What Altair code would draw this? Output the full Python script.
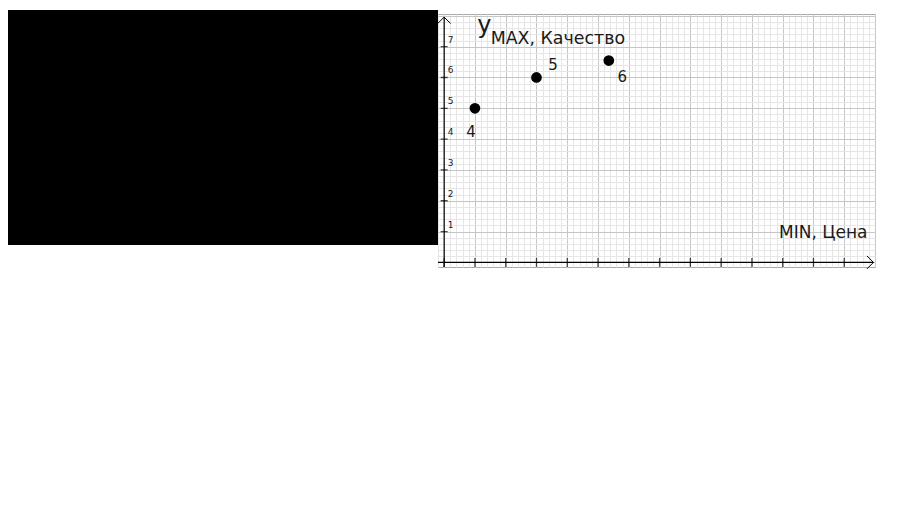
import altair as alt
import pandas as pd

# ---- data (grid units: 1 major cell = 1) ----
point_x = [1, 3, 5.35]
point_y = [5, 6, 6.55]
point_labels = ["4", "5", "6"]

y_tick_values = [1, 2, 3, 4, 5, 6, 7]
x_tick_values = list(range(0, 14))

major_x = list(range(0, 15))
major_y = list(range(0, 9))
minor_x = [round(-0.2 + 0.2 * i, 1) for i in range(72)]
minor_y = [round(0.2 * i, 1) for i in range(41)]

x_domain = [-0.2, 14.0]
y_domain = [-0.15, 8.06]

y_axis_title = "y"
y_axis_sub = "MAX, Качество"
x_axis_title = "MIN, Цена"

# axis extents (grid units)
x_axis_span = [-0.2, 13.95]
y_axis_span = [-0.15, 7.96]

# covered (blacked-out) region to the left of the plot, in grid units
mask_x = [-14.6, -0.2]
mask_y = [0.56, 8.19]

FONT = "DejaVu Sans"
INK = "#1a1a1a"

pts = pd.DataFrame({"x": point_x, "y": point_y, "label": point_labels})
xs = alt.Scale(domain=x_domain, nice=False, zero=False)
ys = alt.Scale(domain=y_domain, nice=False, zero=False)


def grid_layer(xv, yv, color):
    return alt.Chart(pts).mark_point(opacity=0).encode(
        x=alt.X("x:Q", scale=xs, axis=alt.Axis(values=xv, grid=True, gridColor=color, gridWidth=1,
                                                labels=False, ticks=False, domain=False, title=None)),
        y=alt.Y("y:Q", scale=ys, axis=alt.Axis(values=yv, grid=True, gridColor=color, gridWidth=1,
                                                labels=False, ticks=False, domain=False, title=None)),
    )


minor = grid_layer(minor_x, minor_y, "#e6e6e6")
major = grid_layer(major_x, major_y, "#c6c6c6")

mask_df = pd.DataFrame({"x": [mask_x[0]], "x2": [mask_x[1]], "y": [mask_y[0]], "y2": [mask_y[1]]})
mask = alt.Chart(mask_df).mark_rect(color="black").encode(
    x=alt.X("x:Q", scale=xs, axis=None), x2="x2",
    y=alt.Y("y:Q", scale=ys, axis=None), y2="y2",
)

yaxis_df = pd.DataFrame({"x": [0], "y": [y_axis_span[0]], "y2": [y_axis_span[1]]})
yaxis = alt.Chart(yaxis_df).mark_rule(color="black", strokeWidth=1.2).encode(
    x=alt.X("x:Q", scale=xs, axis=None), y=alt.Y("y:Q", scale=ys, axis=None), y2="y2")
xaxis_df = pd.DataFrame({"y": [0], "x": [x_axis_span[0]], "x2": [x_axis_span[1]]})
xaxis = alt.Chart(xaxis_df).mark_rule(color="black", strokeWidth=1.2).encode(
    x=alt.X("x:Q", scale=xs, axis=None), x2="x2", y=alt.Y("y:Q", scale=ys, axis=None))

yarrow = alt.Chart(pd.DataFrame({"x": [0], "y": [y_axis_span[1]]})).mark_point(
    shape="M-1,1L0,0L1,1", filled=False, color="black", size=169, strokeWidth=1, opacity=1).encode(
    x=alt.X("x:Q", scale=xs, axis=None), y=alt.Y("y:Q", scale=ys, axis=None))
xarrow = alt.Chart(pd.DataFrame({"x": [x_axis_span[1]], "y": [0]})).mark_point(
    shape="M-1,-1L0,0L-1,1", filled=False, color="black", size=169, strokeWidth=1, opacity=1).encode(
    x=alt.X("x:Q", scale=xs, axis=None), y=alt.Y("y:Q", scale=ys, axis=None))

yt_df = pd.DataFrame({"x": [0] * len(y_tick_values), "y": y_tick_values, "t": [str(v) for v in y_tick_values]})
yticks = alt.Chart(yt_df).mark_tick(orient="horizontal", color="black", size=7, thickness=1.3).encode(
    x=alt.X("x:Q", scale=xs, axis=None), y=alt.Y("y:Q", scale=ys, axis=None))
ylabels = alt.Chart(yt_df).mark_text(align="left", baseline="alphabetic", dx=3.5, dy=-4,
                                     fontSize=9, font=FONT, color="#222").encode(
    x=alt.X("x:Q", scale=xs, axis=None), y=alt.Y("y:Q", scale=ys, axis=None), text="t:N")

xt_df = pd.DataFrame({"x": x_tick_values, "y": [0] * len(x_tick_values)})
xticks = alt.Chart(xt_df).mark_tick(orient="vertical", color="black", size=9, thickness=1.3).encode(
    x=alt.X("x:Q", scale=xs, axis=None), y=alt.Y("y:Q", scale=ys, axis=None))

dots = alt.Chart(pts).mark_circle(size=115, color="black", opacity=1).encode(
    x=alt.X("x:Q", scale=xs, axis=None), y=alt.Y("y:Q", scale=ys, axis=None))

label_offsets = {"4": (-4, 24), "5": (16.5, -12.5), "6": (13.5, 16.5)}
label_layers = []
for lab, (ddx, ddy) in label_offsets.items():
    label_layers.append(
        alt.Chart(pts).transform_filter(alt.datum.label == lab).mark_text(
            align="center", baseline="middle", dx=ddx, dy=ddy, fontSize=15, font=FONT, color=INK).encode(
            x=alt.X("x:Q", scale=xs, axis=None), y=alt.Y("y:Q", scale=ys, axis=None), text="label:N"))

ytitle_df = pd.DataFrame({"x": [0], "y": [y_axis_span[1]], "t": [y_axis_title], "s": [y_axis_sub]})
ytitle = alt.Chart(ytitle_df).mark_text(align="left", baseline="alphabetic", dx=33, dy=16,
                                        fontSize=24, font=FONT, color=INK).encode(
    x=alt.X("x:Q", scale=xs, axis=None), y=alt.Y("y:Q", scale=ys, axis=None), text="t:N")
ysub = alt.Chart(ytitle_df).mark_text(align="left", baseline="alphabetic", dx=46.5, dy=27,
                                      fontSize=17.4, font=FONT, color=INK).encode(
    x=alt.X("x:Q", scale=xs, axis=None), y=alt.Y("y:Q", scale=ys, axis=None), text="s:N")

xtitle_df = pd.DataFrame({"x": [x_axis_span[1]], "y": [0], "t": [x_axis_title]})
xtitle = alt.Chart(xtitle_df).mark_text(align="right", baseline="alphabetic", dx=-6, dy=-24,
                                        fontSize=17, font=FONT, color=INK).encode(
    x=alt.X("x:Q", scale=xs, axis=None), y=alt.Y("y:Q", scale=ys, axis=None), text="t:N")

chart = alt.layer(
    minor, major, mask, yaxis, xaxis, yarrow, xarrow, yticks, xticks, ylabels, dots,
    *label_layers, ytitle, ysub, xtitle
).resolve_axis(x="independent", y="independent").properties(
    width=437, height=253,
    autosize=alt.AutoSizeParams(type="none"),
    padding={"left": 430, "top": 6, "right": 30, "bottom": 30},
    background="white",
).configure_view(stroke="#a8a8a8", strokeWidth=1)

chart.save("out.html", embed_options={"renderer": "svg", "actions": False})
